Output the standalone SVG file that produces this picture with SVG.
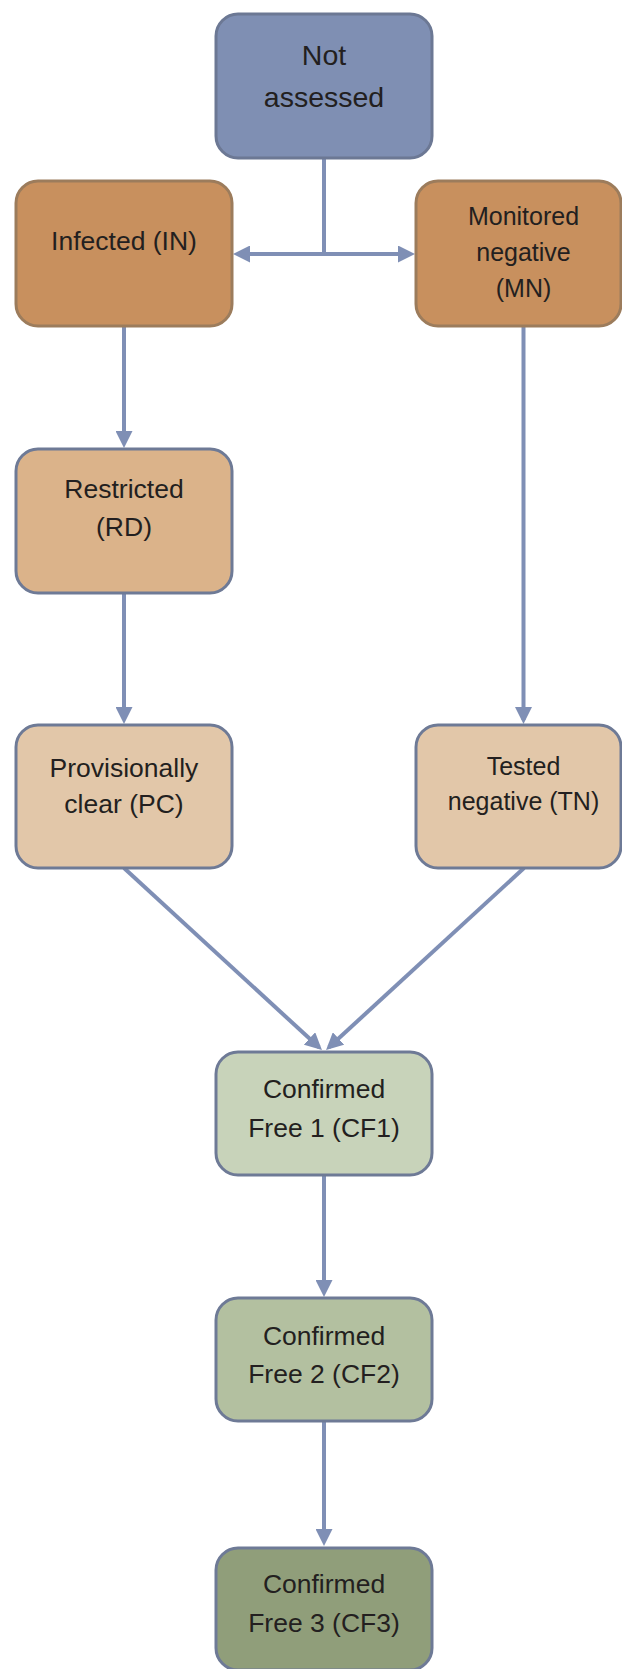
<svg xmlns="http://www.w3.org/2000/svg" width="622" height="1669" viewBox="0 0 622 1669">
<defs>
<style>
.box{stroke-width:3}
.t{font-family:"Liberation Sans",Arial,sans-serif;font-size:26.5px;fill:#231F20;text-anchor:middle}
.ts{font-size:25px}
.tl{font-size:28.5px}
.c{stroke:#7F8FB5;stroke-width:4;fill:none;marker-end:url(#ah)}
</style>
<marker id="ah" markerUnits="userSpaceOnUse" viewBox="0 0 17 17" markerWidth="17" markerHeight="17" refX="13" refY="8.5" orient="auto-start-reverse">
<path d="M0,0 L17,8.5 L0,17 z" fill="#7F8FB5"/>
</marker>
</defs>
<rect width="622" height="1669" fill="#FFFFFF"/>
<g id="connectors">
<line x1="324" y1="158" x2="324" y2="254" style="stroke:#7F8FB5;stroke-width:4"/>
<line class="c" x1="324" y1="254" x2="237" y2="254"/>
<line class="c" x1="324" y1="254" x2="411" y2="254"/>
<line class="c" x1="124" y1="326" x2="124" y2="444"/>
<line class="c" x1="124" y1="593" x2="124" y2="720"/>
<line class="c" x1="523.5" y1="326" x2="523.5" y2="720"/>
<line class="c" x1="124" y1="868" x2="319" y2="1047.3"/>
<line class="c" x1="524" y1="868" x2="329" y2="1047.3"/>
<line class="c" x1="324" y1="1175" x2="324" y2="1293"/>
<line class="c" x1="324" y1="1422" x2="324" y2="1542"/>
</g>
<g id="not-assessed">
<rect class="box" x="216" y="14" width="216" height="144" rx="22" fill="#7F8FB3" stroke="#6C7894"/>
<text class="t tl" x="324" y="65">Not</text>
<text class="t tl" x="324" y="107">assessed</text>
</g>
<g id="infected">
<rect class="box" x="16" y="181" width="216" height="145" rx="22" fill="#C8905E" stroke="#9C7C5C"/>
<text class="t" x="124" y="250">Infected (IN)</text>
</g>
<g id="monitored-negative">
<rect class="box" x="416" y="181" width="205" height="145" rx="22" fill="#C8905E" stroke="#9C7C5C"/>
<text class="t ts" x="523.5" y="225">Monitored</text>
<text class="t ts" x="523.5" y="261">negative</text>
<text class="t ts" x="523.5" y="297">(MN)</text>
</g>
<g id="restricted">
<rect class="box" x="16" y="449" width="216" height="144" rx="22" fill="#DBB38A" stroke="#6E7A96"/>
<text class="t" x="124" y="498">Restricted</text>
<text class="t" x="124" y="536">(RD)</text>
</g>
<g id="provisionally-clear">
<rect class="box" x="16" y="725" width="216" height="143" rx="22" fill="#E2C7A9" stroke="#6E7A96"/>
<text class="t" x="124" y="777">Provisionally</text>
<text class="t" x="124" y="813">clear (PC)</text>
</g>
<g id="tested-negative">
<rect class="box" x="416" y="725" width="205" height="143" rx="22" fill="#E2C7A9" stroke="#6E7A96"/>
<text class="t ts" x="523.5" y="775">Tested</text>
<text class="t ts" x="523.5" y="810">negative (TN)</text>
</g>
<g id="cf1">
<rect class="box" x="216" y="1052" width="216" height="123" rx="22" fill="#C8D3BA" stroke="#6E7A96"/>
<text class="t" x="324" y="1098">Confirmed</text>
<text class="t" x="324" y="1137">Free 1 (CF1)</text>
</g>
<g id="cf2">
<rect class="box" x="216" y="1298" width="216" height="123" rx="22" fill="#B3C0A0" stroke="#6E7A96"/>
<text class="t" x="324" y="1345">Confirmed</text>
<text class="t" x="324" y="1383">Free 2 (CF2)</text>
</g>
<g id="cf3">
<rect class="box" x="216" y="1548" width="216" height="122" rx="22" fill="#909E7A" stroke="#6E7A96"/>
<text class="t" x="324" y="1593">Confirmed</text>
<text class="t" x="324" y="1632">Free 3 (CF3)</text>
</g>
</svg>
